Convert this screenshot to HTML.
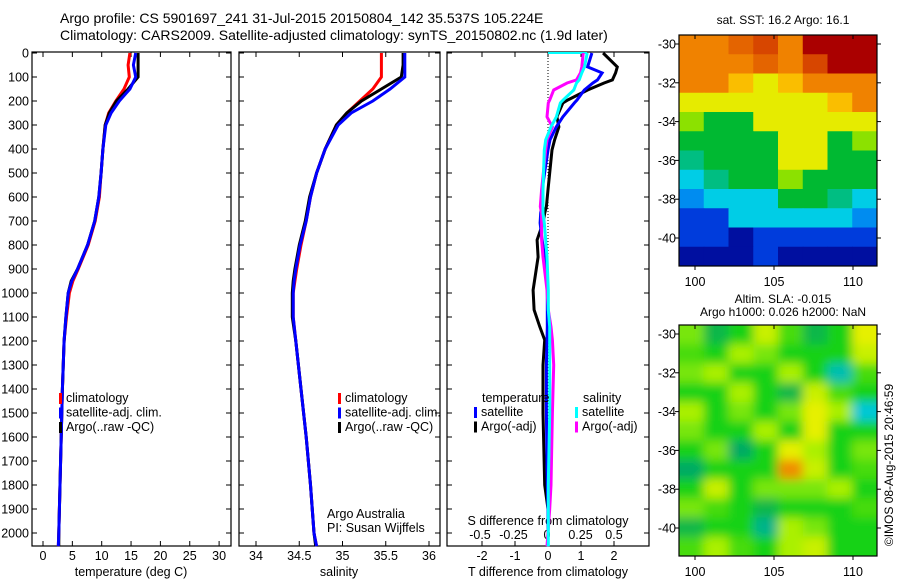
<!DOCTYPE html>
<html><head><meta charset="utf-8"><style>
html,body{margin:0;padding:0;background:#fff;}
svg{display:block;font-family:"Liberation Sans",sans-serif;}
text{font-size:12.5px;fill:#000;}
</style></head><body>
<svg id="fig" width="900" height="580" viewBox="0 0 900 580">
<defs>
<filter id="blur" x="-5%" y="-5%" width="110%" height="110%"><feGaussianBlur stdDeviation="5"/></filter>
<clipPath id="slaClip"><rect x="679" y="325" width="198" height="231"/></clipPath>
<clipPath id="sstClip"><rect x="679" y="35" width="198" height="231"/></clipPath>
</defs>
<text x="60" y="23" style="font-size:14px">Argo profile: CS 5901697_241 31-Jul-2015 20150804_142 35.537S 105.224E</text>
<text x="60" y="40" style="font-size:14px">Climatology: CARS2009. Satellite-adjusted climatology: synTS_20150802.nc (1.9d later)</text>
<g id="g"></g>
</svg>
<script>
// ---- data ----
const depthLevels=[0,50,100,150,200,250,300,400,500,600,700,800,900,950,1000,1100,1200,1400,1600,1800,2000,2055];
const tempClim=[14.8,14.5,14.7,13.8,12.4,11.2,10.6,10.2,9.9,9.6,8.9,7.7,6.0,5.1,4.5,4.0,3.6,3.3,3.1,2.9,2.7,2.6];
const tempSat =[15.8,15.4,15.8,14.8,13.0,11.6,10.7,10.2,9.9,9.5,8.8,7.6,5.9,4.9,4.3,3.9,3.6,3.3,3.1,2.9,2.7,2.6];
const tempArgo=[16.2,16.2,16.2,14.5,12.5,11.3,10.6,10.2,9.9,9.5,8.8,7.6,5.9,4.8,4.3,3.9,3.6,3.3,3.1,2.9,2.7,2.7];
const salClim=[35.45,35.45,35.45,35.35,35.2,35.05,34.93,34.8,34.7,34.63,34.58,34.52,34.47,34.45,34.43,34.43,34.46,34.52,34.58,34.63,34.67,34.7];
const salSat =[35.72,35.72,35.72,35.55,35.35,35.1,34.95,34.8,34.7,34.63,34.58,34.51,34.46,34.44,34.43,34.43,34.46,34.52,34.58,34.63,34.67,34.7];
const salArgo=[35.70,35.70,35.68,35.45,35.22,35.05,34.93,34.8,34.7,34.62,34.57,34.5,34.45,34.43,34.42,34.42,34.46,34.52,34.58,34.63,34.67,34.69];
const diffDepths=[0,58,83,112,125,154,196,208,266,308,362,404,570,640,667,708,779,850,988,1070,1141,1196,1300,1500,1800,1900,2055];
const tDiffArgo=[1.67,2.1,2.05,1.95,1.7,1.2,0.6,0.45,0.27,0.33,0.2,0.12,0,-0.05,-0.1,-0.15,-0.33,-0.3,-0.45,-0.42,-0.25,-0.1,-0.15,-0.15,-0.1,0,0];
const tDiffSat =[1.33,1.2,1.64,1.5,1.36,1.1,0.88,0.8,0.45,0.25,0.06,0,-0.18,-0.2,-0.22,-0.24,-0.18,-0.1,-0.02,-0.02,-0.02,-0.03,-0.05,-0.05,-0.02,0,0];
const sDiffArgo=[0.27,0.26,0.25,0.22,0.15,0.05,0.02,0.01,0.0,0.04,0.0,-0.01,-0.04,-0.05,-0.04,-0.04,-0.04,-0.03,0,0.01,0.03,0.04,0.05,0.04,0.03,0.02,0];
const sDiffSat =[0.3,0.28,0.26,0.24,0.22,0.2,0.12,0.1,0.07,0.03,-0.01,-0.02,-0.03,-0.03,-0.03,-0.02,-0.01,0,0.01,0.01,0.02,0.02,0.02,0.02,0.01,0.01,0.01];
const depthTicks=[0,100,200,300,400,500,600,700,800,900,1000,1100,1200,1300,1400,1500,1600,1700,1800,1900,2000];
const tempTicks=[0,5,10,15,20,25,30];
const salTicks=[34,34.5,35,35.5,36];
const tDiffTicks=[-2,-1,0,1,2];
const sDiffTicks=[-0.5,-0.25,0,0.25,0.5];
const sstGrid=[
[19,19,19.5,20,19,21,21,21],
[19,19,19,19.5,19,20,21,21],
[19,19,18,17,18,19,19,19],
[17,17,17,17,17,17,18,19],
[16,15,15,17,17,17,17,17],
[15,15,15,15,17,17,15,16],
[14,15,15,15,17,17,15,15],
[13,14,15,15,16,15,15,15],
[12,13,13,13,15,15,14,13],
[11,11,13,13,13,13,13,12],
[11,11,9.5,11,11,11,11,11],
[9.5,9.5,9.5,11,9.5,9.5,9.5,9.5]];
const slaGrid=[
[0.2,-0.2,0,0.4,0.1,-0.2,0,0.5],
[0.1,0,0.3,0.2,0,0,0,0.4],
[0.2,0.3,0,0,0.3,0,-0.5,0.1],
[0,0,0.3,0,-0.2,0.4,0.1,0],
[0.3,0,0.2,0,0.2,0.5,0.3,-0.6],
[0.2,0,0,0.3,0,0.5,0,0],
[0,0.2,-0.3,0,0.5,0.3,0,0.2],
[-0.3,0,0,0,0.8,0.4,0,0.1],
[0,0.4,0,0.2,0.2,0.2,0.3,0],
[0.2,0.1,0,-0.2,0,0,0,0.1],
[-0.2,0,0,-0.4,0.3,0.2,0,0],
[0.1,0.3,0.1,0,0.3,0.4,0,0]];
const lonTicks=[100,105,110];
const latTicks=[-30,-32,-34,-36,-38,-40];

// ---- helpers ----
const NS="http://www.w3.org/2000/svg";
const G=document.getElementById('g');
function mk(tag,attrs,parent){const e=document.createElementNS(NS,tag);for(const k in attrs)e.setAttribute(k,attrs[k]);(parent||G).appendChild(e);return e;}
function txt(x,y,s,anchor,size){const t=mk('text',{x:x,y:y,'text-anchor':anchor||'start'});if(size)t.style.fontSize=size+'px';t.textContent=s;return t;}
const yDepth=d=>53+d*0.24;
const xTemp=v=>43+v*5.87;
const xSal=v=>256+(v-34)*86.5;
const xTd=v=>548+v*33;
const xSd=v=>547+v*134;

function frame(x0,x1,name){const r=mk('rect',{x:x0,y:52,width:x1-x0,height:494,fill:'none',stroke:'#000','stroke-width':1.2});


depthTicks.forEach(d=>{mk('line',{x1:x0,x2:x0+5,y1:yDepth(d),y2:yDepth(d),stroke:'#000'});mk('line',{x1:x1-5,x2:x1,y1:yDepth(d),y2:yDepth(d),stroke:'#000'});});}
function line(xs,ds,xf,color,name){const pts=xs.map((v,i)=>xf(v).toFixed(1)+','+yDepth(ds[i]).toFixed(1)).join(' ');
const p=mk('polyline',{points:pts,fill:'none',stroke:color,'stroke-width':3,'stroke-linejoin':'miter'});

}
function legend(x,y,items){items.forEach((it,i)=>{mk('rect',{x:x,y:y+i*14.5-9,width:3,height:11,fill:it[0]});const t=txt(x+7,y+i*14.5,it[1]);

});}

// panel 1 temperature
frame(32,231,'temperature-panel');
depthTicks.forEach(d=>{const t=txt(29,yDepth(d)+4.5,String(d),'end');

});
tempTicks.forEach(v=>{mk('line',{x1:xTemp(v),x2:xTemp(v),y1:546,y2:541,stroke:'#000'});mk('line',{x1:xTemp(v),x2:xTemp(v),y1:52,y2:57,stroke:'#000'});
const t=txt(xTemp(v),560,String(v),'middle');

});
{const t=txt(131,576,'temperature (deg C)','middle');

}
line(tempClim,depthLevels,xTemp,'#f00','temp-climatology-line');
line(tempArgo,depthLevels,xTemp,'#000','temp-argo-line');
line(tempSat,depthLevels,xTemp,'#00f','temp-satellite-line');
legend(59,402,[['#f00','climatology'],['#00f','satellite-adj. clim.'],['#000','Argo(..raw -QC)']]);

// panel 2 salinity
frame(239,440,'salinity-panel');
salTicks.forEach(v=>{mk('line',{x1:xSal(v),x2:xSal(v),y1:546,y2:541,stroke:'#000'});mk('line',{x1:xSal(v),x2:xSal(v),y1:52,y2:57,stroke:'#000'});
const t=txt(xSal(v),560,String(v),'middle');

});
{const t=txt(339,576,'salinity','middle');

}
line(salClim,depthLevels,xSal,'#f00','sal-climatology-line');
line(salArgo,depthLevels,xSal,'#000','sal-argo-line');
line(salSat,depthLevels,xSal,'#00f','sal-satellite-line');
legend(338,402,[['#f00','climatology'],['#00f','satellite-adj. clim.'],['#000','Argo(..raw -QC)']]);
txt(327,518,'Argo Australia');txt(327,532,'PI: Susan Wijffels');

// panel 3 differences
frame(447,649,'difference-panel');
mk('line',{x1:548,x2:548,y1:52,y2:546,stroke:'#000','stroke-dasharray':'1,2'});
tDiffTicks.forEach(v=>{mk('line',{x1:xTd(v),x2:xTd(v),y1:546,y2:541,stroke:'#000'});mk('line',{x1:xTd(v),x2:xTd(v),y1:52,y2:57,stroke:'#000'});
const t=txt(xTd(v),560,String(v),'middle');

});
sDiffTicks.forEach(v=>{const t=txt(xSd(v),539,String(v),'middle');

});
{const t=txt(548,525,'S difference from climatology','middle');

}
{const t=txt(548,576,'T difference from climatology','middle');

}
mk('line',{x1:548,x2:587,y1:53,y2:53,stroke:'#0ff','stroke-width':2});
line(tDiffArgo,diffDepths,xTd,'#000','t-diff-argo-line');
line(tDiffSat,diffDepths,xTd,'#00f','t-diff-satellite-line');
line(sDiffArgo,diffDepths,xSd,'#f0f','s-diff-argo-line');
line(sDiffSat,diffDepths,xSd,'#0ff','s-diff-satellite-line');
txt(482,402,'temperature');txt(583,402,'salinity');
legend(474,416,[['#00f','satellite'],['#000','Argo(-adj)']]);
legend(575,416,[['#0ff','satellite'],['#f0f','Argo(-adj)']]);

// maps
function interp(stops,v){if(v<=stops[0][0])return 'rgb('+stops[0][1].join(',')+')';for(let i=1;i<stops.length;i++){if(v<=stops[i][0]){const a=stops[i-1],b=stops[i],t=(v-a[0])/(b[0]-a[0]);return 'rgb('+a[1].map((c,k)=>Math.round(c+(b[1][k]-c)*t)).join(',')+')';}}return 'rgb('+stops[stops.length-1][1].join(',')+')';}
const sstStops=[[9,[0,0,140]],[11,[0,60,220]],[12,[0,140,240]],[13,[0,205,230]],[14,[0,190,130]],[15,[0,185,50]],[16,[140,225,0]],[17,[230,235,0]],[18,[250,190,0]],[19,[240,130,0]],[20,[215,70,0]],[21,[170,0,0]]];
const slaStops=[[-0.6,[0,200,215]],[-0.3,[0,170,100]],[0,[20,210,20]],[0.3,[170,240,0]],[0.5,[230,240,0]],[0.8,[240,140,0]]];
function map(y0,grid,stops,name,clip,blur){
 const x0=679,x1=877,h=231,w=x1-x0;
 const lonX=l=>695+(l-100)*15.8, latY=l=>y0+9+(-30-l)*19.4;
 const nr=grid.length,nc=grid[0].length;
 const outer=mk('g',{'clip-path':'url(#'+clip+')'});
 const cg=mk('g',blur?{filter:'url(#blur)'}:{},outer);
 const pad=blur?10:0;
 grid.forEach((row,r)=>row.forEach((v,c)=>{
  let x=x0+c*w/nc, y=y0+r*h/nr, cw=w/nc+0.6, ch=h/nr+0.6;
  if(c===0){x-=pad;cw+=pad;} if(c===nc-1){cw+=pad;}
  if(r===0){y-=pad;ch+=pad;} if(r===nr-1){ch+=pad;}
  const cell=mk('rect',{x:x.toFixed(2),y:y.toFixed(2),width:cw.toFixed(2),height:ch.toFixed(2),fill:interp(stops,v)},cg);
  
  }));
 const fr=mk('rect',{x:x0,y:y0,width:w,height:h,fill:'none',stroke:'#000','stroke-width':1.2});
 
 
 lonTicks.forEach(l=>{mk('line',{x1:lonX(l),x2:lonX(l),y1:y0,y2:y0+4,stroke:'#000'});mk('line',{x1:lonX(l),x2:lonX(l),y1:y0+h,y2:y0+h+4,stroke:'#000'});
  const t=txt(lonX(l),y0+h+20,String(l),'middle');
  
  });
 latTicks.forEach(l=>{mk('line',{x1:x0-4,x2:x0,y1:latY(l),y2:latY(l),stroke:'#000'});mk('line',{x1:x1,x2:x1+4,y1:latY(l),y2:latY(l),stroke:'#000'});
  const t=txt(x0-3,latY(l)+4.5,String(l),'end');
  
  });
}
map(35,sstGrid,sstStops,'sst-map','sstClip',false);
map(325,slaGrid,slaStops,'sla-map','slaClip',true);
{const t=txt(783,24,'sat. SST: 16.2  Argo: 16.1','middle',12);}
{const t=txt(783,303,'Altim. SLA: -0.015','middle',12);}
{const t=txt(783,316,'Argo h1000: 0.026 h2000: NaN','middle',12);}
{const t=txt(0,0,'©IMOS 08-Aug-2015 20:46:59','middle',12);t.setAttribute('transform','translate(893,465) rotate(-90)');

}
</script>
</body></html>
